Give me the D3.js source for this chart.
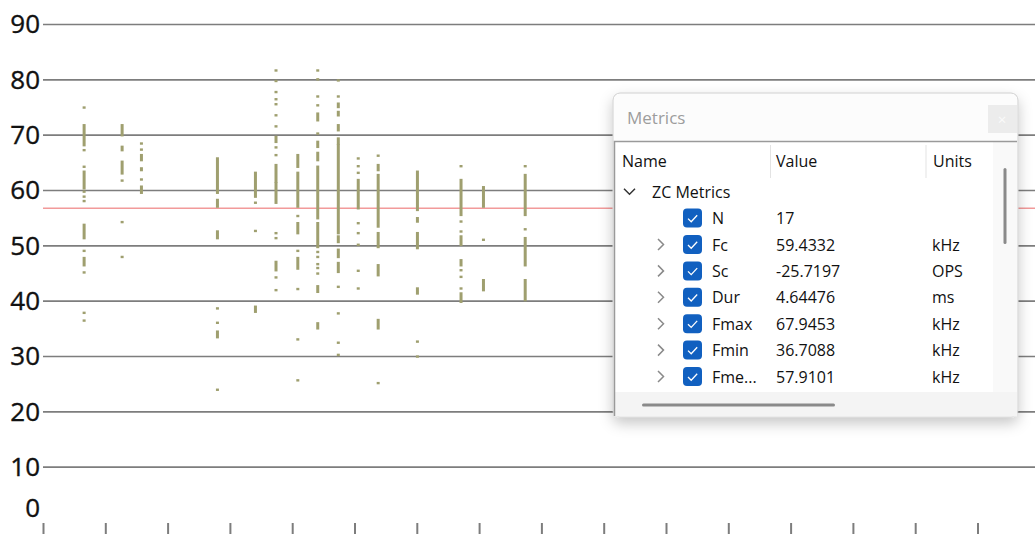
<!DOCTYPE html>
<html>
<head>
<meta charset="utf-8">
<script src="https://cdn.jsdelivr.net/npm/d3@7"></script>
<style>
  body { margin: 0; background: #fff; }
  svg { display: block; font-family: "Open Sans", "Noto Sans", sans-serif; }
</style>
</head>
<body>
<div id="chart"></div>
<script>
// x position of each call (in tick units) and the frequency ranges (kHz) of its points
const callX = [0.66, 1.27, 1.58, 2.80, 3.41, 3.74, 4.09, 4.41, 4.74, 5.06, 5.38, 6.01, 6.71, 7.07, 7.74];
const callRanges = [
  [[74.9,74.9],[68.1,71.7],[67.2,67.2],[64.2,64.2],[60.3,63.3],[59.7,59.7],[58.8,58.8],[58.0,58.0],[51.3,53.7],[49.0,49.0],[46.4,47.7],[45.1,45.1],[37.8,37.8],[36.4,36.4]],
  [[69.9,71.7],[67.2,67.8],[63.0,65.1],[61.7,61.7],[54.2,54.2],[47.9,47.9]],
  [[68.4,68.4],[67.3,67.3],[65.4,66.3],[63.6,63.9],[61.9,61.9],[59.5,60.6]],
  [[59.5,65.7],[57.0,58.2],[51.3,52.5],[38.6,38.6],[36.0,36.0],[33.4,34.4],[23.9,23.9]],
  [[58.8,63.1],[57.7,57.7],[52.6,52.6],[38.0,38.9]],
  [[81.6,81.6],[79.7,79.7],[77.7,77.7],[76.4,76.4],[75.5,75.5],[73.5,73.5],[71.5,71.5],[68.7,69.6],[67.7,67.7],[66.3,66.3],[61.5,64.5],[57.7,61.2],[52.2,52.2],[51.3,51.3],[45.5,47.0],[44.2,44.2],[41.9,41.9]],
  [[64.2,66.3],[57.0,63.1],[55.3,55.3],[52.2,54.0],[49.0,49.0],[45.8,47.7],[42.1,42.1],[33.0,33.0],[25.6,25.6]],
  [[81.6,81.6],[80.0,80.0],[76.9,76.9],[75.3,75.3],[72.6,73.8],[70.2,70.2],[67.8,68.7],[65.4,66.7],[54.9,64.2],[49.7,54.0],[48.8,48.8],[47.9,47.9],[46.6,46.6],[45.9,45.9],[44.9,44.9],[41.6,42.6],[35.0,35.9]],
  [[79.8,79.8],[76.9,76.9],[75.0,75.6],[73.5,74.1],[70.8,71.7],[68.4,69.3],[52.2,68.1],[50.6,51.6],[47.9,49.2],[45.2,46.8],[42.5,42.5],[37.7,37.7],[32.4,32.4],[30.2,30.2]],
  [[65.7,65.7],[64.3,64.3],[63.1,63.1],[56.7,61.8],[54.0,54.0],[52.2,52.2],[50.1,50.1],[45.4,45.4],[42.2,42.2]],
  [[66.2,66.2],[63.6,64.5],[53.4,62.7],[49.7,52.2],[44.6,46.4],[35.0,36.5],[25.1,25.1]],
  [[56.4,63.3],[54.3,54.9],[49.5,52.2],[41.3,42.2],[32.6,32.6],[29.9,29.9]],
  [[64.3,64.3],[55.5,61.8],[54.3,54.3],[52.5,52.5],[50.1,51.6],[46.4,47.3],[45.5,45.5],[44.3,44.3],[42.2,42.2],[39.8,41.3]],
  [[57.0,60.5],[51.0,51.0],[41.9,43.7]],
  [[64.3,64.3],[55.5,62.7],[52.9,52.9],[46.4,51.3],[40.1,43.7]]
];
const yTicks = [0, 10, 20, 30, 40, 50, 60, 70, 80, 90];
const xTicks = d3.range(0, 17);
const refLine = 56.7;

// metrics window
const metricGroup = 'ZC Metrics';
const metricNames = ['N', 'Fc', 'Sc', 'Dur', 'Fmax', 'Fmin', 'Fme...'];
const metricValues = ['17', '59.4332', '-25.7197', '4.64476', '67.9453', '36.7088', '57.9101'];
const metricUnits = ['', 'kHz', 'OPS', 'ms', 'kHz', 'kHz', 'kHz'];
const metricHeaders = ['Name', 'Value', 'Units'];

const width = 1035, height = 534;
const margin = { left: 43, top: 24, bottom: 12 };

const svg = d3.select('#chart').append('svg')
  .attr('width', width)
  .attr('height', height);

const x = d3.scaleLinear().domain([0, 16]).range([margin.left, margin.left + 16 * 62.3]);
const y = d3.scaleLinear().domain([0, 90]).range([height - margin.bottom, margin.top]);

// gridlines
svg.append('g')
  .attr('class', 'grid')
  .attr('transform', `translate(${margin.left},0)`)
  .call(d3.axisLeft(y).tickValues(yTicks.filter(d => d > 0)).tickSize(-(width - margin.left)).tickFormat(''))
  .call(g => g.select('.domain').remove())
  .call(g => g.selectAll('line').attr('stroke', '#7d7d7d').attr('stroke-width', 1.6));

// y labels
svg.append('g')
  .attr('class', 'axis axis-y')
  .attr('transform', `translate(${margin.left},0)`)
  .call(d3.axisLeft(y).tickValues(yTicks).tickSize(0).tickPadding(3))
  .call(g => g.select('.domain').remove())
  .call(g => g.selectAll('text')
    .attr('font-family', '"Open Sans", sans-serif')
    .attr('font-size', 26)
    .attr('fill', '#111')
    .attr('stroke', '#111')
    .attr('stroke-width', 0.35)
    .attr('dy', d => d === 0 ? '-0.2em' : '0.34em'));

// x ticks
svg.append('g')
  .attr('class', 'axis axis-x')
  .attr('transform', `translate(0,${height - margin.bottom + 1})`)
  .call(d3.axisBottom(x).tickValues(xTicks).tickSize(14).tickFormat(''))
  .call(g => g.select('.domain').remove())
  .call(g => g.selectAll('line').attr('stroke', '#7d7d7d').attr('stroke-width', 2));

// reference line
svg.append('line')
  .attr('x1', margin.left).attr('x2', width)
  .attr('y1', y(refLine)).attr('y2', y(refLine))
  .attr('stroke', '#f29a9a')
  .attr('stroke-width', 1.4);

// call points
const calls = svg.append('g').attr('class', 'calls');
callX.forEach((cx, i) => {
  calls.selectAll(null)
    .data(callRanges[i])
    .enter()
    .append('rect')
    .attr('x', x(cx) - 1.5)
    .attr('y', d => y(d[1]) - 1.2)
    .attr('width', 3)
    .attr('height', d => y(d[0]) - y(d[1]) + 2.4)
    .attr('fill', '#9f9f6f');
});

// metrics window
const defs = svg.append('defs');
const shadow = defs.append('filter').attr('id', 'shadow')
  .attr('x', '-10%').attr('y', '-10%').attr('width', '120%').attr('height', '125%');
shadow.append('feDropShadow')
  .attr('dx', 0).attr('dy', 6).attr('stdDeviation', 7)
  .attr('flood-color', '#000').attr('flood-opacity', 0.22);

const win = svg.append('g').attr('class', 'metrics');
const wx = 613, wy = 93, ww = 405, wh = 324;

win.append('rect')
  .attr('x', wx).attr('y', wy).attr('width', ww).attr('height', wh)
  .attr('rx', 7)
  .attr('fill', '#fcfcfc')
  .attr('stroke', '#cfcfcf')
  .attr('filter', 'url(#shadow)');

win.append('text')
  .attr('x', wx + 14).attr('y', wy + 24)
  .attr('dominant-baseline', 'central')
  .attr('font-size', 17)
  .attr('fill', '#9d9d9d')
  .text('Metrics');

win.append('rect')
  .attr('x', 988).attr('y', 105).attr('width', 29).attr('height', 28)
  .attr('fill', '#ececec');
win.append('text')
  .attr('x', 1002).attr('y', 119)
  .attr('text-anchor', 'middle').attr('dominant-baseline', 'central')
  .attr('font-size', 15).attr('fill', '#fafafa')
  .text('×');

// tree view area
const cx0 = 614.5, cy0 = 141.5, cw = 402.5, ch = 275;
win.append('rect')
  .attr('x', cx0).attr('y', cy0).attr('width', cw).attr('height', ch)
  .attr('fill', '#f4f4f4');
win.append('rect')
  .attr('x', cx0).attr('y', cy0).attr('width', 993 - cx0).attr('height', 392 - cy0)
  .attr('fill', '#fff');
win.append('rect')
  .attr('x', 993).attr('y', cy0).attr('width', cx0 + cw - 993).attr('height', 392 - cy0)
  .attr('fill', '#f9f9f9');
win.append('path')
  .attr('d', `M${cx0},${wy + wh - 1}V${cy0}H${cx0 + cw}`)
  .attr('fill', 'none')
  .attr('stroke', '#9a9a9a')
  .attr('stroke-width', 1.5);

// scrollbars
win.append('rect')
  .attr('x', 1003.5).attr('y', 168).attr('width', 3).attr('height', 76).attr('rx', 1.5)
  .attr('fill', '#8a8a8a');
win.append('rect')
  .attr('x', 642).attr('y', 403.5).attr('width', 193).attr('height', 3).attr('rx', 1.5)
  .attr('fill', '#8a8a8a');

// header
const colX = [622, 776, 933];
win.selectAll('.hdr')
  .data(metricHeaders)
  .enter()
  .append('text')
  .attr('class', 'hdr')
  .attr('x', (d, i) => colX[i])
  .attr('y', 161)
  .attr('dominant-baseline', 'central')
  .attr('font-size', 16)
  .attr('fill', '#111')
  .text(d => d);
win.selectAll('.sep')
  .data([770.5, 926])
  .enter()
  .append('line')
  .attr('x1', d => d).attr('x2', d => d)
  .attr('y1', 145).attr('y2', 178)
  .attr('stroke', '#e3e3e3');

// group row
const rowH = 26.4, row0 = 191.7;
win.append('path')
  .attr('d', `M${624},${row0 - 3}l5.5,5.5l5.5,-5.5`)
  .attr('fill', 'none').attr('stroke', '#333').attr('stroke-width', 1.5);
win.append('text')
  .attr('x', 652).attr('y', row0)
  .attr('dominant-baseline', 'central')
  .attr('font-size', 16).attr('fill', '#111')
  .text(metricGroup);

const rows = win.selectAll('.row')
  .data(metricNames.map((n, i) => ({ name: n, value: metricValues[i], unit: metricUnits[i], i })))
  .enter()
  .append('g')
  .attr('class', 'row')
  .attr('transform', d => `translate(0,${row0 + rowH * (d.i + 1)})`);

rows.filter(d => d.i > 0)
  .append('path')
  .attr('d', 'M658,-5.5l5.5,5.5l-5.5,5.5')
  .attr('fill', 'none').attr('stroke', '#8a8a8a').attr('stroke-width', 1.5);

rows.append('rect')
  .attr('x', 683).attr('y', -9.5).attr('width', 19).attr('height', 19).attr('rx', 4)
  .attr('fill', '#1160c0');
rows.append('path')
  .attr('d', 'M688,0.5l3.2,3.2l6,-6.5')
  .attr('fill', 'none').attr('stroke', '#fff').attr('stroke-width', 1.3);

rows.append('text')
  .attr('x', 712).attr('dominant-baseline', 'central')
  .attr('font-size', 16).attr('fill', '#111')
  .text(d => d.name);
rows.append('text')
  .attr('x', 776).attr('dominant-baseline', 'central')
  .attr('font-size', 16).attr('fill', '#111')
  .text(d => d.value);
rows.append('text')
  .attr('x', 932).attr('dominant-baseline', 'central')
  .attr('font-size', 16).attr('fill', '#111')
  .text(d => d.unit);
</script>
</body>
</html>
